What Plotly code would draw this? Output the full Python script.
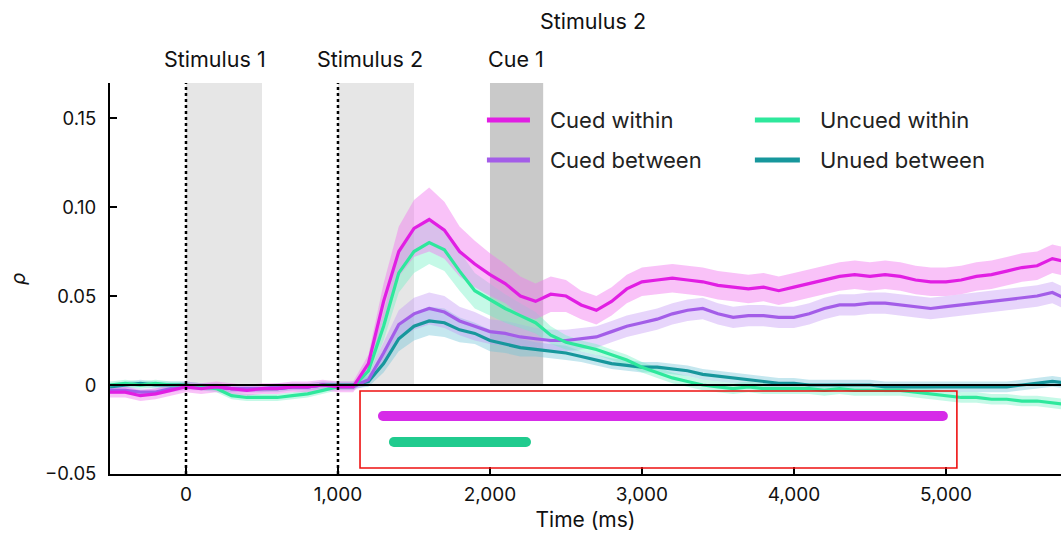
import plotly.graph_objects as go

# ---------------- data ----------------
time_ms = list(range(-500, 5900, 100))

cued_within = [-0.004, -0.004, -0.006, -0.005, -0.003, -0.001, -0.002, -0.001, -0.002, -0.003, -0.002, -0.002, -0.001, -0.001, 0.000, -0.001, -0.001,
               0.012, 0.047, 0.075, 0.088, 0.093, 0.087, 0.075, 0.068, 0.062, 0.057, 0.050, 0.047, 0.051, 0.050,
               0.045, 0.042, 0.047, 0.054, 0.058, 0.059, 0.060, 0.059, 0.058, 0.056, 0.055, 0.054, 0.055, 0.053, 0.055, 0.057,
               0.059, 0.061, 0.062, 0.061, 0.062, 0.061, 0.059, 0.058, 0.058, 0.059, 0.061, 0.062, 0.064, 0.066, 0.067, 0.071, 0.069]
cued_within_sem = [0.003, 0.003, 0.003, 0.003, 0.003, 0.003, 0.003, 0.003, 0.003, 0.003, 0.003, 0.003, 0.003, 0.003, 0.003, 0.003, 0.003,
                   0.005, 0.010, 0.014, 0.016, 0.018, 0.016, 0.014, 0.013, 0.012, 0.011, 0.011, 0.010, 0.010, 0.009,
                   0.008, 0.008, 0.008, 0.008, 0.008, 0.008, 0.008, 0.008, 0.008, 0.008, 0.008, 0.008, 0.008, 0.008, 0.008, 0.008,
                   0.008, 0.008, 0.008, 0.008, 0.008, 0.008, 0.008, 0.008, 0.008, 0.008, 0.008, 0.008, 0.008, 0.008, 0.008, 0.008, 0.008]

cued_between = [-0.003, -0.003, -0.004, -0.004, -0.002, -0.001, -0.001, -0.001, -0.002, -0.002, -0.002, -0.001, -0.001, -0.001, 0.000, -0.001, -0.001,
                0.003, 0.018, 0.034, 0.040, 0.043, 0.041, 0.036, 0.033, 0.030, 0.029, 0.027, 0.026, 0.025, 0.025,
                0.026, 0.027, 0.030, 0.033, 0.035, 0.037, 0.040, 0.042, 0.043, 0.040, 0.038, 0.039, 0.039, 0.038, 0.038, 0.040,
                0.043, 0.045, 0.045, 0.046, 0.046, 0.045, 0.044, 0.043, 0.044, 0.045, 0.046, 0.047, 0.048, 0.049, 0.050, 0.052, 0.048]
cued_between_sem = [0.002, 0.002, 0.002, 0.002, 0.002, 0.002, 0.002, 0.002, 0.002, 0.002, 0.002, 0.002, 0.002, 0.002, 0.002, 0.002, 0.002,
                    0.003, 0.006, 0.008, 0.009, 0.009, 0.009, 0.008, 0.008, 0.007, 0.007, 0.007, 0.006, 0.006, 0.006,
                    0.006, 0.006, 0.006, 0.006, 0.006, 0.006, 0.006, 0.006, 0.006, 0.006, 0.006, 0.006, 0.006, 0.006, 0.006, 0.006,
                    0.006, 0.006, 0.006, 0.006, 0.006, 0.006, 0.006, 0.006, 0.006, 0.006, 0.006, 0.006, 0.006, 0.006, 0.006, 0.006, 0.006]

uncued_within = [0.000, 0.001, 0.000, 0.001, 0.000, 0.000, -0.001, -0.002, -0.006, -0.007, -0.007, -0.007, -0.006, -0.005, -0.003, -0.001, -0.001,
                 0.008, 0.033, 0.063, 0.075, 0.080, 0.076, 0.064, 0.053, 0.048, 0.043, 0.039, 0.035, 0.028, 0.024,
                 0.022, 0.020, 0.017, 0.014, 0.010, 0.007, 0.004, 0.002, 0.000, -0.001, -0.002, -0.001, -0.002, -0.002, -0.002, -0.002,
                 -0.003, -0.002, -0.003, -0.003, -0.003, -0.003, -0.004, -0.005, -0.006, -0.007, -0.007, -0.008, -0.008, -0.009, -0.009, -0.010, -0.011]
uncued_within_sem = [0.002, 0.002, 0.002, 0.002, 0.002, 0.002, 0.002, 0.002, 0.002, 0.002, 0.002, 0.002, 0.002, 0.002, 0.002, 0.002, 0.002,
                     0.004, 0.008, 0.011, 0.012, 0.012, 0.012, 0.011, 0.010, 0.009, 0.008, 0.007, 0.006, 0.005, 0.004,
                     0.003, 0.003, 0.003, 0.003, 0.003, 0.003, 0.003, 0.003, 0.003, 0.003, 0.003, 0.003, 0.003, 0.003, 0.003, 0.003,
                     0.003, 0.003, 0.003, 0.003, 0.003, 0.003, 0.003, 0.003, 0.003, 0.003, 0.003, 0.003, 0.003, 0.003, 0.003, 0.003, 0.003]

uncued_between = [-0.001, 0.000, 0.001, 0.000, 0.000, 0.000, -0.001, -0.001, -0.002, -0.002, -0.002, -0.002, -0.001, -0.001, 0.000, 0.000, 0.000,
                  0.002, 0.012, 0.026, 0.033, 0.036, 0.035, 0.031, 0.029, 0.025, 0.023, 0.021, 0.020, 0.019, 0.018,
                  0.016, 0.014, 0.012, 0.011, 0.010, 0.010, 0.009, 0.008, 0.006, 0.005, 0.004, 0.003, 0.002, 0.001, 0.001, 0.000,
                  0.000, 0.000, 0.000, 0.000, -0.001, -0.001, -0.001, -0.001, -0.001, -0.001, -0.001, -0.001, -0.001, 0.000, 0.001, 0.002, 0.001]
uncued_between_sem = [0.002, 0.002, 0.002, 0.002, 0.002, 0.002, 0.002, 0.002, 0.002, 0.002, 0.002, 0.002, 0.002, 0.002, 0.002, 0.002, 0.002,
                      0.003, 0.005, 0.007, 0.008, 0.008, 0.008, 0.007, 0.006, 0.006, 0.005, 0.005, 0.004, 0.004, 0.004,
                      0.003, 0.003, 0.003, 0.003, 0.003, 0.003, 0.003, 0.003, 0.003, 0.003, 0.003, 0.003, 0.003, 0.003, 0.003, 0.003,
                      0.003, 0.003, 0.003, 0.003, 0.003, 0.003, 0.003, 0.003, 0.003, 0.003, 0.003, 0.003, 0.003, 0.003, 0.003, 0.003, 0.003]

series_names = ["Cued within", "Cued between", "Uncued within", "Unued between"]

# significance clusters (ms) and their drawing level
sig_cued_span = [1296, 4980]
sig_cued_level = -0.0174
sig_uncued_span = [1368, 2237]
sig_uncued_level = -0.032

# event windows (ms)
stim1_window = [0, 500]
stim2_window = [1000, 1500]
cue1_window = [2000, 2350]
onsets = [0, 1000]

x_tickvals = [0, 1000, 2000, 3000, 4000, 5000]
x_ticktext = ["0", "1,000", "2,000", "3,000", "4,000", "5,000"]
y_tickvals = [-0.05, 0, 0.05, 0.10, 0.15]
y_ticktext = ["\u22120.05", "0", "0.05", "0.10", "0.15"]

X_RANGE = [-500, 5757]
Y_RANGE = [-0.05, 0.1697]

# ---------------- styling ----------------
FONT = "Inter"
line_colors = {"Cued within": "#e11ee3", "Cued between": "#a35de8",
               "Uncued within": "#2ee89c", "Unued between": "#17979c"}
band_colors = {"Cued within": "rgba(242,120,240,0.45)", "Cued between": "rgba(195,150,245,0.40)",
               "Uncued within": "rgba(110,240,195,0.40)", "Unued between": "rgba(110,195,215,0.40)"}

data = {"Cued within": (cued_within, cued_within_sem),
        "Cued between": (cued_between, cued_between_sem),
        "Uncued within": (uncued_within, uncued_within_sem),
        "Unued between": (uncued_between, uncued_between_sem)}

fig = go.Figure()

draw_order = ["Unued between", "Cued between", "Uncued within", "Cued within"]
for name in draw_order:
    m, s = data[name]
    upper = [a + b for a, b in zip(m, s)]
    lower = [a - b for a, b in zip(m, s)]
    fig.add_trace(go.Scatter(x=time_ms + time_ms[::-1], y=upper + lower[::-1],
                             fill="toself", fillcolor=band_colors[name],
                             line=dict(width=0), hoverinfo="skip", showlegend=False))
for name in draw_order:
    m, s = data[name]
    fig.add_trace(go.Scatter(x=time_ms, y=m, mode="lines", name=name,
                             line=dict(color=line_colors[name], width=3.2), showlegend=False))

# significance bars (rounded ends via end markers)
for span, lvl, col in [(sig_cued_span, sig_cued_level, "#d62ce8"), (sig_uncued_span, sig_uncued_level, "#20cb8e")]:
    fig.add_trace(go.Scatter(x=span, y=[lvl, lvl], mode="lines+markers",
                             line=dict(color=col, width=10),
                             marker=dict(color=col, size=10, line=dict(width=0)),
                             showlegend=False))

shapes = []
for w, c in [(stim1_window, "#e6e6e6"), (stim2_window, "#e6e6e6"), (cue1_window, "#c9c9c9")]:
    shapes.append(dict(type="rect", xref="x", yref="y", x0=w[0], x1=w[1], y0=0, y1=Y_RANGE[1],
                       fillcolor=c, line=dict(width=0), layer="below"))
for t in onsets:
    shapes.append(dict(type="line", xref="x", yref="paper", x0=t, x1=t, y0=0, y1=1,
                       line=dict(color="black", width=2.5, dash="dot"), layer="above"))
shapes.append(dict(type="line", xref="paper", yref="y", x0=0, x1=1, y0=0, y1=0,
                   line=dict(color="black", width=2), layer="above"))
# highlight box
shapes.append(dict(type="rect", xref="x", yref="y", x0=1145, x1=5072, y0=-0.0466, y1=-0.0034,
                   line=dict(color="#ee1111", width=1.6), fillcolor="rgba(0,0,0,0)", layer="above"))

# manual legend
leg_rows = [0.1489, 0.1264]
leg_cols = [(1980, 2263, 2382), (3743, 4039, 4158)]
leg_layout = [("Cued within", 0, 0), ("Cued between", 0, 1), ("Uncued within", 1, 0), ("Unued between", 1, 1)]
annotations = []
for name, ci, ri in leg_layout:
    x0, x1, xt = leg_cols[ci]
    y = leg_rows[ri]
    shapes.append(dict(type="line", xref="x", yref="y", x0=x0, x1=x1, y0=y, y1=y,
                       line=dict(color=line_colors[name], width=5), layer="above"))
    annotations.append(dict(x=xt, y=y, xref="x", yref="y", text=name, showarrow=False,
                            xanchor="left", yanchor="middle", font=dict(size=22, color="#222", family=FONT)))

for txt, tx, ty in [("Stimulus 1", 190, 1.062), ("Stimulus 2", 1210, 1.062), ("Cue 1", 2170, 1.062), ("Stimulus 2", 2676, 1.158)]:
    annotations.append(dict(x=tx, y=ty, xref="x", yref="paper", text=txt, showarrow=False,
                            xanchor="center", yanchor="middle", font=dict(size=21.5, color="#111", family=FONT)))

fig.update_layout(
    width=1061, height=544,
    margin=dict(l=110, r=0, t=83, b=70),
    plot_bgcolor="white", paper_bgcolor="white",
    shapes=shapes, annotations=annotations,
    font=dict(family=FONT, color="#111"),
    xaxis=dict(range=X_RANGE, showline=True, linecolor="black", linewidth=2,
               ticks="inside", ticklen=7, tickwidth=1.5, tickcolor="black",
               tickvals=x_tickvals, ticktext=x_ticktext, tickfont=dict(size=19),
               ticklabelstandoff=2,
               showgrid=False, zeroline=False,
               title=dict(text="Time (ms)", font=dict(size=21), standoff=8)),
    yaxis=dict(range=Y_RANGE, showline=True, linecolor="black", linewidth=2,
               ticks="inside", ticklen=7, tickwidth=1.5, tickcolor="black",
               tickvals=y_tickvals, ticktext=y_ticktext, tickfont=dict(size=18.5),
               ticklabelstandoff=8,
               showgrid=False, zeroline=False,
               title=dict(text="<i>ρ</i>", font=dict(size=20), standoff=14)),
)

fig.write_html("out.html")
